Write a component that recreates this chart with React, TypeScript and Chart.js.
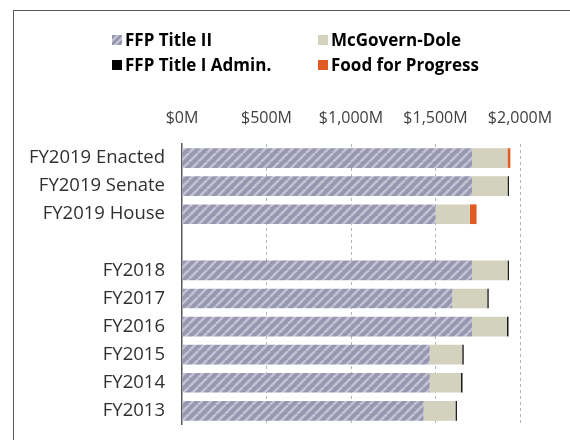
import React, { useEffect, useRef } from "react";
import { Chart, registerables } from "chart.js";

Chart.register(...registerables);

const categories = [
  "FY2019 Enacted",
  "FY2019 Senate",
  "FY2019 House",
  "",
  "FY2018",
  "FY2017",
  "FY2016",
  "FY2015",
  "FY2014",
  "FY2013",
];
const titleII = [1716, 1716, 1500, null, 1716, 1600, 1716, 1466, 1466, 1430];
const mcgovernDole = [210, 210, 203, null, 210, 206, 207, 192, 185, 188];
const titleIAdmin = [0, 9, 0, null, 9, 9, 9, 9, 9, 9];
const foodForProgress = [17, 0, 40, null, 0, 0, 0, 0, 0, 0];
const xTicks = [0, 500, 1000, 1500, 2000];

const FONT = "'Open Sans', sans-serif";

function makePattern(): CanvasPattern | string {
  const c = document.createElement("canvas");
  const s = 9;
  c.width = s;
  c.height = s;
  const g = c.getContext("2d");
  if (!g) return "#9a9ab2";
  g.fillStyle = "#9797b0";
  g.fillRect(0, 0, s, s);
  g.strokeStyle = "#c3c3d4";
  g.lineWidth = 2.6;
  for (const off of [-s, 0, s]) {
    g.beginPath();
    g.moveTo(off, s);
    g.lineTo(off + s, 0);
    g.stroke();
  }
  const p = g.createPattern(c, "repeat");
  return p || "#9a9ab2";
}

export default function App() {
  const ref = useRef<HTMLCanvasElement>(null);
  useEffect(() => {
    if (!ref.current) return;
    const pattern = makePattern();
    const chart = new Chart(ref.current, {
      type: "bar",
      data: {
        labels: categories,
        datasets: [
          { label: "FFP Title II", data: titleII, backgroundColor: pattern as any },
          { label: "McGovern-Dole", data: mcgovernDole, backgroundColor: "#d2d2bf" },
          { label: "FFP Title I Admin.", data: titleIAdmin, backgroundColor: "#1a1a1a" },
          { label: "Food for Progress", data: foodForProgress, backgroundColor: "#e05a24" },
        ],
      },
      options: {
        indexAxis: "y",
        animation: false,
        responsive: false,
        maintainAspectRatio: false,
        datasets: { bar: { barPercentage: 0.7, categoryPercentage: 1, borderWidth: 0 } },
        layout: { padding: { left: 0, top: 98, right: 50, bottom: 6 } },
        plugins: { legend: { display: false }, tooltip: { enabled: false } },
        scales: {
          x: {
            position: "top",
            stacked: true,
            min: 0,
            max: 2000,
            afterBuildTicks: (axis: any) => {
              axis.ticks = xTicks.map((v) => ({ value: v }));
            },
            afterFit: (scale: any) => {
              scale.height = 46;
            },
            ticks: {
              padding: 16,
              color: "#404040",
              font: { family: FONT, size: 16 },
              callback: (v: any) => "$" + Number(v).toLocaleString("en-US") + "M",
            },
            grid: {
              drawTicks: false,
              color: (ctx: any) => (ctx.tick && ctx.tick.value === 0 ? "rgba(0,0,0,0)" : "#b5b5b5"),
              lineWidth: 1,
            },
            border: { display: false, dash: [3, 3] },
          },
          y: {
            stacked: true,
            afterFit: (scale: any) => {
              scale.width = 182;
            },
            ticks: {
              padding: 17,
              color: "#303030",
              font: { family: FONT, size: 18.5 },
              autoSkip: false,
            },
            grid: { display: false, drawTicks: false },
            border: { display: true, color: "#595959", width: 1.5 },
          },
        },
      } as any,
    });
    return () => chart.destroy();
  }, []);

  const legendItem = (label: string, swatch: React.CSSProperties, left: number, top: number) => (
    <div
      style={{
        position: "absolute",
        left,
        top,
        display: "flex",
        alignItems: "center",
        fontFamily: FONT,
        fontWeight: 700,
        fontSize: 17,
        color: "#000",
        whiteSpace: "nowrap",
      }}
    >
      <span style={{ display: "inline-block", width: 10, height: 10, marginRight: 3, ...swatch }} />
      <span>{label}</span>
    </div>
  );

  return (
    <div style={{ position: "fixed", left: 0, top: 0, width: 570, height: 440, overflow: "hidden", background: "#fff" }}>
      <div
        style={{
          position: "absolute",
          left: 13,
          top: 10,
          width: 700,
          height: 600,
          border: "1px solid #5a5a5a",
        }}
      />
      <canvas ref={ref} width={570} height={453} style={{ position: "absolute", left: 0, top: 0 }} />
      {legendItem(
        "FFP Title II",
        { background: "repeating-linear-gradient(135deg, #9797b0 0 3px, #c3c3d4 3px 5px)" },
        112,
        28
      )}
      {legendItem("McGovern-Dole", { background: "#d2d2bf" }, 318, 28)}
      {legendItem("FFP Title I Admin.", { background: "#000" }, 112, 53)}
      {legendItem("Food for Progress", { background: "#e05a24" }, 318, 53)}
    </div>
  );
}
